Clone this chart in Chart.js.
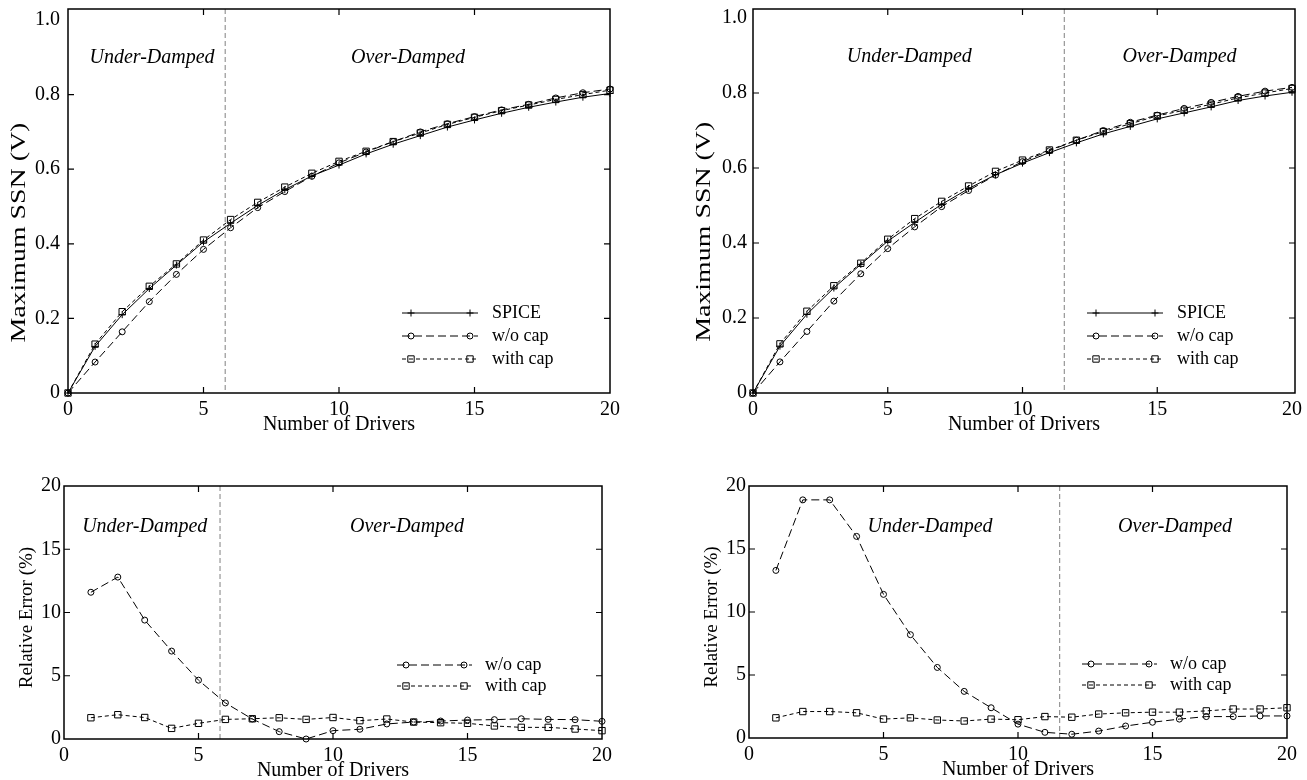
<!DOCTYPE html>
<html>
<head>
<meta charset="utf-8">
<script src="https://cdn.jsdelivr.net/npm/chart.js@4.4.1/dist/chart.umd.min.js"></script>
<style>
  html, body { margin: 0; padding: 0; background: #fff; }
  #wrap { position: relative; width: 1307px; height: 780px; }
  #wrap canvas { position: absolute; left: 0; top: 0; }
</style>
</head>
<body>
<div id="wrap">
  <canvas id="ssnLeft" width="1307" height="780"></canvas>
  <canvas id="ssnRight" width="1307" height="780"></canvas>
  <canvas id="errLeft" width="1307" height="780"></canvas>
  <canvas id="errRight" width="1307" height="780"></canvas>
</div>
<script>
// number of drivers
const drivers = [0, 1, 2, 3, 4, 5, 6, 7, 8, 9, 10, 11, 12, 13, 14, 15, 16, 17, 18, 19, 20];
const errDrivers = [1, 2, 3, 4, 5, 6, 7, 8, 9, 10, 11, 12, 13, 14, 15, 16, 17, 18, 19, 20];

// Maximum SSN (V) - left figure
const ssnSpiceL   = [0, 0.125, 0.210, 0.280, 0.343, 0.405, 0.455, 0.503, 0.545, 0.582, 0.611, 0.641, 0.667, 0.690, 0.713, 0.732, 0.750, 0.766, 0.780, 0.793, 0.803];
const ssnNoCapL   = [0, 0.083, 0.164, 0.245, 0.318, 0.385, 0.443, 0.497, 0.540, 0.581, 0.617, 0.646, 0.674, 0.700, 0.722, 0.741, 0.759, 0.774, 0.791, 0.805, 0.815];
const ssnWithCapL = [0, 0.131, 0.218, 0.286, 0.346, 0.410, 0.465, 0.511, 0.552, 0.589, 0.621, 0.648, 0.674, 0.697, 0.720, 0.739, 0.757, 0.772, 0.787, 0.800, 0.812];

// Maximum SSN (V) - right figure
const ssnSpiceR   = [0, 0.125, 0.210, 0.280, 0.343, 0.405, 0.455, 0.503, 0.545, 0.582, 0.613, 0.641, 0.667, 0.691, 0.711, 0.731, 0.747, 0.763, 0.780, 0.792, 0.802];
const ssnNoCapR   = [0, 0.083, 0.164, 0.245, 0.318, 0.385, 0.443, 0.497, 0.540, 0.581, 0.617, 0.646, 0.674, 0.700, 0.722, 0.741, 0.759, 0.775, 0.791, 0.805, 0.815];
const ssnWithCapR = [0, 0.131, 0.218, 0.286, 0.346, 0.410, 0.465, 0.511, 0.552, 0.591, 0.621, 0.648, 0.674, 0.697, 0.718, 0.739, 0.754, 0.770, 0.787, 0.800, 0.812];

// Relative error (%)
const errNoCapL   = [11.6, 12.8, 9.4, 6.95, 4.65, 2.85, 1.58, 0.58, 0.0, 0.66, 0.77, 1.19, 1.34, 1.42, 1.5, 1.53, 1.6, 1.55, 1.53, 1.4];
const errWithCapL = [1.68, 1.92, 1.7, 0.84, 1.24, 1.55, 1.6, 1.68, 1.55, 1.7, 1.45, 1.58, 1.34, 1.29, 1.24, 1.03, 0.92, 0.92, 0.79, 0.66];
const errNoCapR   = [13.3, 18.9, 18.9, 16.0, 11.4, 8.2, 5.6, 3.7, 2.4, 1.1, 0.45, 0.3, 0.55, 0.95, 1.25, 1.5, 1.7, 1.7, 1.75, 1.75];
const errWithCapR = [1.6, 2.1, 2.1, 2.0, 1.5, 1.6, 1.43, 1.35, 1.5, 1.45, 1.7, 1.65, 1.9, 2.0, 2.05, 2.05, 2.15, 2.3, 2.3, 2.4];

// damping boundary (number of drivers)
const boundaryL = 5.8;
const boundaryR = 11.55;

const PAGE_W = 1307, PAGE_H = 780;
const SERIF = "'Liberation Serif', 'Times New Roman', serif";

Chart.defaults.font.family = SERIF;
Chart.defaults.color = '#000';

const lineStyle = {
  spice:   { label: 'SPICE',    dash: [],     marker: 'cross',  r: 3.5 },
  noCap:   { label: 'w/o cap',  dash: [8, 4], marker: 'circle', r: 3 },
  withCap: { label: 'with cap', dash: [4, 3], marker: 'rect',   r: 4.5 },
};

function makePanel(id, o) {
  const a = o.area;

  const paper = {
    id: 'paper_' + id,
    beforeDatasetsDraw(chart) {
      const c = chart.ctx, xs = chart.scales.x;
      const px = xs.getPixelForValue(o.boundary);
      c.save();
      c.strokeStyle = '#808080';
      c.lineWidth = 1;
      c.setLineDash([5, 3]);
      c.beginPath();
      c.moveTo(px, a.top);
      c.lineTo(px, a.bottom);
      c.stroke();
      c.restore();
    },
    afterDraw(chart) {
      const c = chart.ctx, xs = chart.scales.x, ys = chart.scales.y;
      c.save();
      // frame
      c.strokeStyle = '#000';
      c.lineWidth = 1.5;
      c.setLineDash([]);
      c.strokeRect(a.left, a.top, a.right - a.left, a.bottom - a.top);
      // inward ticks on all four sides
      c.lineWidth = 1.2;
      c.beginPath();
      xs.ticks.forEach(t => {
        if (t.value <= xs.min || t.value >= xs.max) return;
        const p = xs.getPixelForValue(t.value);
        c.moveTo(p, a.bottom); c.lineTo(p, a.bottom - 6);
        c.moveTo(p, a.top); c.lineTo(p, a.top + 6);
      });
      ys.ticks.forEach(t => {
        if (t.value <= ys.min || t.value >= ys.max) return;
        const p = ys.getPixelForValue(t.value);
        c.moveTo(a.left, p); c.lineTo(a.left + 6, p);
        c.moveTo(a.right, p); c.lineTo(a.right - 6, p);
      });
      c.stroke();

      // axis titles
      c.fillStyle = '#000';
      c.font = '20px ' + SERIF;
      c.textAlign = 'center';
      c.textBaseline = 'middle';
      c.fillText('Number of Drivers', (a.left + a.right) / 2, a.bottom + 32);

      c.save();
      c.font = o.yTitleSize + 'px ' + SERIF;
      c.translate(a.left - o.yTitleOff, ys.getPixelForValue(o.yTitleAt));
      c.rotate(-Math.PI / 2);
      if (o.yTitleLen) {
        // the source figure stretches this label along the axis
        const w = c.measureText(o.yTitle).width;
        c.scale(o.yTitleLen / w, 1);
      }
      c.fillText(o.yTitle, 0, 0);
      c.restore();

      // region labels
      c.font = 'italic 20px ' + SERIF;
      o.regions.forEach(r => {
        c.fillText(r.text, xs.getPixelForValue(r.x), ys.getPixelForValue(r.y));
      });

      // legend: short line with a marker near each end
      const lg = o.legend;
      chart.data.datasets.forEach((ds, i) => {
        const y = a.bottom - lg.rows[i];
        const x1 = a.right - lg.lineFrom, x2 = a.right - lg.lineTo;
        c.strokeStyle = '#000';
        c.lineWidth = 1;
        c.setLineDash(ds.borderDash);
        c.beginPath();
        c.moveTo(x1, y); c.lineTo(x2, y);
        c.stroke();
        c.setLineDash([]);
        c.fillStyle = 'rgba(0,0,0,0)';
        const pt = { pointStyle: ds.pointStyle, radius: ds.pointRadius, borderWidth: 1, rotation: 0 };
        Chart.helpers.drawPoint(c, pt, x1 + 9, y);
        Chart.helpers.drawPoint(c, pt, x2 - 8, y);
        c.fillStyle = '#000';
        c.font = '18px ' + SERIF;
        c.textAlign = 'left';
        c.fillText(ds.label, a.right - lg.textAt, y);
      });
      c.restore();
    }
  };

  return new Chart(document.getElementById(id), {
    type: 'line',
    data: {
      datasets: o.series.map(s => ({
        label: s.style.label,
        data: s.x.map((x, i) => ({ x: x, y: s.y[i] })),
        borderColor: '#000',
        borderWidth: 1,
        borderDash: s.style.dash,
        pointStyle: s.style.marker,
        pointRadius: s.style.r,
        pointHoverRadius: s.style.r,
        pointBorderColor: '#000',
        pointBackgroundColor: 'rgba(0,0,0,0)',
        pointBorderWidth: 1,
        tension: 0,
        fill: false,
        clip: false,
      })),
    },
    options: {
      responsive: false,
      animation: false,
      events: [],
      layout: {
        padding: { left: a.left - 60, top: a.top, right: PAGE_W - a.right, bottom: PAGE_H - a.bottom - 40 },
      },
      plugins: { legend: { display: false }, tooltip: { enabled: false } },
      scales: {
        x: {
          type: 'linear', min: 0, max: 20,
          ticks: { stepSize: 5, padding: 5, maxRotation: 0, font: { size: 20 }, color: '#000' },
          grid: { display: false, drawTicks: false },
          border: { display: false },
          afterFit(s) { s.height = 40; },
        },
        y: {
          min: 0, max: o.yMax,
          ticks: { stepSize: o.yStep, padding: o.yPad, font: { size: 20 }, color: '#000', callback: o.yFmt },
          grid: { display: false, drawTicks: false },
          border: { display: false },
          afterFit(s) { s.width = 60; },
        },
      },
    },
    plugins: [paper],
  });
}

const voltFmt = v => (v === 0 ? '0' : v.toFixed(1));
const pctFmt = v => String(v);
const topLegend = { rows: [80, 57, 34], lineFrom: 208, lineTo: 132, textAt: 118 };
const botLegend = { rows: [74, 53], lineFrom: 205, lineTo: 130, textAt: 117 };

makePanel('ssnLeft', {
  area: { left: 68, top: 9, right: 610, bottom: 393 },
  yMax: 1, yStep: 0.2, yPad: 8, yFmt: voltFmt,
  yTitle: 'Maximum SSN (V)', yTitleSize: 20, yTitleLen: 220, yTitleOff: 48, yTitleAt: 0.43,
  boundary: boundaryL,
  regions: [{ text: 'Under-Damped', x: 3.1, y: 0.898 }, { text: 'Over-Damped', x: 12.55, y: 0.898 }],
  legend: topLegend,
  series: [
    { style: lineStyle.spice, x: drivers, y: ssnSpiceL },
    { style: lineStyle.noCap, x: drivers, y: ssnNoCapL },
    { style: lineStyle.withCap, x: drivers, y: ssnWithCapL },
  ],
});

makePanel('ssnRight', {
  area: { left: 753, top: 9, right: 1295, bottom: 393 },
  yMax: 1, yStep: 0.2, yPad: 6, yFmt: voltFmt,
  yTitle: 'Maximum SSN (V)', yTitleSize: 20, yTitleLen: 220, yTitleOff: 48, yTitleAt: 0.43,
  boundary: boundaryR,
  regions: [{ text: 'Under-Damped', x: 5.8, y: 0.898 }, { text: 'Over-Damped', x: 15.83, y: 0.898 }],
  legend: topLegend,
  series: [
    { style: lineStyle.spice, x: drivers, y: ssnSpiceR },
    { style: lineStyle.noCap, x: drivers, y: ssnNoCapR },
    { style: lineStyle.withCap, x: drivers, y: ssnWithCapR },
  ],
});

makePanel('errLeft', {
  area: { left: 64, top: 486, right: 602, bottom: 739 },
  yMax: 20, yStep: 5, yPad: 3, yFmt: pctFmt,
  yTitle: 'Relative Error (%)', yTitleSize: 19, yTitleLen: 0, yTitleOff: 37, yTitleAt: 9.6,
  boundary: boundaryL,
  regions: [{ text: 'Under-Damped', x: 3.0, y: 16.8 }, { text: 'Over-Damped', x: 12.75, y: 16.8 }],
  legend: botLegend,
  series: [
    { style: lineStyle.noCap, x: errDrivers, y: errNoCapL },
    { style: lineStyle.withCap, x: errDrivers, y: errWithCapL },
  ],
});

makePanel('errRight', {
  area: { left: 749, top: 486, right: 1287, bottom: 738 },
  yMax: 20, yStep: 5, yPad: 3, yFmt: pctFmt,
  yTitle: 'Relative Error (%)', yTitleSize: 19, yTitleLen: 0, yTitleOff: 37, yTitleAt: 9.6,
  boundary: boundaryR,
  regions: [{ text: 'Under-Damped', x: 6.73, y: 16.8 }, { text: 'Over-Damped', x: 15.84, y: 16.8 }],
  legend: botLegend,
  series: [
    { style: lineStyle.noCap, x: errDrivers, y: errNoCapR },
    { style: lineStyle.withCap, x: errDrivers, y: errWithCapR },
  ],
});
</script>
</body>
</html>
